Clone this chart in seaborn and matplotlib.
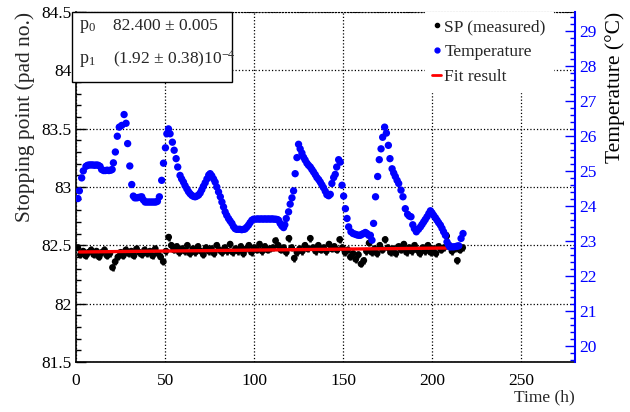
import matplotlib
matplotlib.use("Agg")
import matplotlib.pyplot as plt
import matplotlib.ticker as mticker
import numpy as np
import seaborn as sns
from matplotlib.lines import Line2D
from matplotlib.patches import Rectangle

# stopping point, one point every 1.5 h from t = 1 h
sp_time = np.arange(1, 217.1, 1.5)
sp_value = [
    82.48, 82.42, 82.45, 82.41, 82.44, 82.46, 82.42, 82.45, 82.40, 82.44,
    82.46, 82.41, 82.43, 82.31, 82.36, 82.40, 82.44, 82.41, 82.46, 82.43,
    82.45, 82.41, 82.47, 82.44, 82.42, 82.46, 82.43, 82.45, 82.41, 82.47,
    82.43, 82.40, 82.36, 82.45, 82.57, 82.50, 82.46, 82.49, 82.44, 82.47,
    82.45, 82.50, 82.43, 82.47, 82.44, 82.49, 82.45, 82.42, 82.48, 82.45,
    82.47, 82.43, 82.50, 82.46, 82.44, 82.48, 82.45, 82.51, 82.44, 82.47,
    82.45, 82.49, 82.43, 82.47, 82.50, 82.44, 82.48, 82.46, 82.51, 82.45,
    82.49, 82.46, 82.47, 82.48, 82.54, 82.50, 82.46, 82.48, 82.44, 82.56,
    82.48, 82.39, 82.44, 82.47, 82.45, 82.50, 82.47, 82.56, 82.48, 82.45,
    82.50, 82.46, 82.48, 82.45, 82.51, 82.47, 82.49, 82.46, 82.55, 82.48,
    82.44, 82.46, 82.40, 82.43, 82.38, 82.42, 82.34, 82.37, 82.45, 82.52,
    82.44, 82.47, 82.43, 82.50, 82.46, 82.55, 82.48, 82.44, 82.47, 82.43,
    82.49, 82.46, 82.51, 82.44, 82.48, 82.45, 82.50, 82.46, 82.43, 82.48,
    82.45, 82.50, 82.44, 82.47, 82.43, 82.49, 82.46, 82.48, 82.58, 82.50,
    82.45, 82.47, 82.37, 82.46, 82.48,
]
sp_err = 0.03

temp_time = [
    1.1, 1.9, 3.2, 4.1, 5.6, 6.5, 7.5, 8.5, 9.5, 10.5,
    11.5, 12.5, 13.5, 14.4, 15.5, 16.5, 17.5, 18.5, 19.5, 20.3,
    21.0, 22.1, 23.2, 24.3, 25.7, 27.0, 28.1, 29.0, 30.2, 31.3,
    32.2, 33.0, 34.1, 35.0, 36.0, 36.9, 37.8, 38.8, 39.8, 40.8,
    41.8, 42.8, 43.8, 44.8, 45.7, 46.8, 48.1, 49.1, 50.2, 51.0,
    51.9, 52.8, 54.1, 55.1, 56.2, 57.1, 58.4, 59.3, 60.3, 61.2,
    62.2, 63.1, 64.0, 65.0, 66.0, 66.9, 67.8, 68.8, 69.7, 70.6,
    71.5, 72.5, 73.5, 74.5, 75.3, 76.2, 77.2, 78.1, 79.0, 80.0,
    81.0, 81.9, 82.8, 83.7, 84.6, 85.6, 86.5, 87.5, 88.4, 89.3,
    90.2, 91.2, 92.1, 93.0, 94.0, 94.9, 95.8, 96.8, 97.7, 98.7,
    99.7, 101.0, 102.0, 103.0, 104.0, 105.0, 106.0, 107.0, 108.0, 109.0,
    110.0, 111.0, 112.0, 113.0, 113.7, 114.6, 115.5, 116.5, 117.2, 118.0,
    119.3, 120.2, 121.2, 122.1, 123.0, 124.0, 124.9, 125.8, 126.8, 127.7,
    128.6, 129.6, 130.5, 131.5, 132.4, 133.3, 134.3, 135.2, 136.2, 137.1,
    138.0, 138.9, 139.9, 140.8, 141.8, 142.7, 143.6, 144.6, 145.5, 146.3,
    147.4, 148.3, 149.3, 150.2, 151.2, 152.1, 153.0, 154.3, 155.5, 156.7,
    157.7, 158.7, 159.6, 160.5, 161.4, 162.4, 163.3, 164.2, 165.2, 166.1,
    167.0, 168.1, 169.3, 170.2, 171.2, 172.1, 173.2, 174.2, 175.3, 176.2,
    177.4, 178.3, 179.2, 180.2, 181.1, 182.4, 183.5, 184.8, 186.1, 187.0,
    188.0, 189.0, 189.9, 191.0, 192.2, 193.3, 194.2, 195.1, 196.0, 197.0,
    198.0, 198.9, 199.8, 200.7, 201.7, 202.6, 203.5, 204.5, 205.4, 206.3,
    207.3, 208.2, 209.0, 209.7, 210.8, 212.0, 213.2, 214.0, 214.8, 216.1,
    217.2,
]
temp_value = [
    24.20, 24.42, 24.79, 24.99, 25.12, 25.15, 25.16, 25.16, 25.16, 25.15,
    25.16, 25.15, 25.12, 25.03, 25.00, 25.00, 25.01, 25.00, 25.01, 25.03,
    25.22, 25.53, 25.98, 26.24, 26.29, 26.60, 26.35, 25.77, 25.13, 24.60,
    24.27, 24.22, 24.22, 24.23, 24.24, 24.25, 24.16, 24.10, 24.10, 24.10,
    24.10, 24.10, 24.10, 24.10, 24.12, 24.25, 24.72, 25.21, 25.65, 26.05,
    26.19, 26.05, 25.81, 25.58, 25.34, 25.10, 24.86, 24.76, 24.67, 24.57,
    24.48, 24.40, 24.34, 24.29, 24.26, 24.25, 24.27, 24.30, 24.36, 24.45,
    24.55, 24.65, 24.76, 24.87, 24.91, 24.85, 24.76, 24.67, 24.53, 24.39,
    24.25, 24.10, 23.96, 23.82, 23.72, 23.63, 23.56, 23.49, 23.40, 23.34,
    23.32, 23.32, 23.32, 23.31, 23.32, 23.33, 23.38, 23.44, 23.51, 23.58,
    23.61, 23.61, 23.62, 23.61, 23.62, 23.61, 23.62, 23.61, 23.62, 23.61,
    23.62, 23.61, 23.61, 23.60, 23.58, 23.49, 23.42, 23.37, 23.45, 23.63,
    23.82, 24.04, 24.22, 24.42, 24.91, 25.37, 25.75, 25.62, 25.50, 25.38,
    25.30, 25.21, 25.15, 25.10, 25.03, 24.96, 24.88, 24.80, 24.74, 24.67,
    24.59, 24.51, 24.41, 24.31, 24.28, 24.32, 24.63, 24.80, 24.89, 25.10,
    25.31, 25.24, 24.58, 24.27, 23.91, 23.63, 23.39, 23.25, 23.20, 23.18,
    23.16, 23.15, 23.15, 23.18, 23.20, 23.23, 23.20, 23.15, 23.15, 23.01,
    23.49, 24.25, 24.83, 25.31, 25.62, 25.95, 26.24, 26.07, 25.72, 25.34,
    25.05, 24.93, 24.83, 24.72, 24.63, 24.44, 24.25, 23.91, 23.75, 23.70,
    23.68, 23.45, 23.34, 23.25, 23.32, 23.39, 23.46, 23.53, 23.60, 23.68,
    23.77, 23.85, 23.79, 23.72, 23.65, 23.58, 23.51, 23.44, 23.35, 23.25,
    23.15, 22.96, 22.88, 22.82, 22.82, 22.82, 22.83, 22.84, 22.85, 23.06,
    23.20,
]

# linear fit drawn over the data range
fit_time = [2, 210]
fit_value = [82.443, 82.477]

sns.set_style("white")
plt.rcParams["font.family"] = ["Liberation Serif", "DejaVu Serif"]
plt.rcParams["mathtext.fontset"] = "custom"
plt.rcParams["mathtext.rm"] = "Liberation Serif"
plt.rcParams["mathtext.it"] = "Liberation Serif:italic"

fig = plt.figure(figsize=(6.3, 4.12), dpi=100)
ax = fig.add_axes([0.1206, 0.1214, 0.792, 0.8495])

ax.errorbar(sp_time, sp_value, yerr=sp_err, fmt="none", ecolor="black",
            elinewidth=1.8, zorder=3)
sns.scatterplot(x=sp_time, y=sp_value, color="black", s=24, edgecolor="none",
                ax=ax, zorder=4)
sns.lineplot(x=fit_time, y=fit_value, color="red", linewidth=2.4, ax=ax,
             zorder=5)

ax.set_xlim(0, 280)
ax.set_ylim(81.5, 84.5)
ax.xaxis.set_major_locator(mticker.MultipleLocator(50))
ax.xaxis.set_minor_locator(mticker.MultipleLocator(10))
ax.yaxis.set_major_locator(mticker.MultipleLocator(0.5))
ax.yaxis.set_minor_locator(mticker.MultipleLocator(0.1))
ax.yaxis.set_major_formatter(mticker.FuncFormatter(lambda v, p: f"{v:g}"))
ax.tick_params(which="both", direction="in", top=False, right=False,
               colors="black", labelsize=12.5)
ax.tick_params(which="major", length=7, width=1)
ax.tick_params(which="minor", length=3.5, width=1)
ax.tick_params(axis="y", pad=3)
ax.tick_params(axis="x", pad=8)
ax.grid(True, which="major", linestyle=":", color="black", linewidth=0.9)
for side in ["left", "bottom"]:
    ax.spines[side].set_color("black")
    ax.spines[side].set_linewidth(1.2)
ax.spines["right"].set_visible(False)
ax.spines["top"].set_color("black")
ax.spines["top"].set_linestyle(":")
ax.set_ylabel("Stopping point (pad no.)", loc="top", fontsize=15.5,
              labelpad=5)
ax.set_xlabel("Time (h)", loc="right", fontsize=12.5, labelpad=0)

ax2 = ax.twinx()
sns.scatterplot(x=temp_time, y=temp_value, color="blue", s=28,
                edgecolor="none", ax=ax2, zorder=4)
ax2.set_ylim(19.53, 29.53)
ax2.yaxis.set_major_locator(mticker.MultipleLocator(1))
ax2.yaxis.set_minor_locator(mticker.MultipleLocator(0.2))
ax2.tick_params(which="both", direction="in", colors="blue", labelsize=12.5,
                pad=3)
ax2.tick_params(which="major", length=7, width=1)
ax2.tick_params(which="minor", length=3.5, width=1)
for side in ["left", "top", "bottom"]:
    ax2.spines[side].set_visible(False)
ax2.spines["right"].set_color("blue")
ax2.spines["right"].set_linewidth(1.5)
ax2.set_ylabel("Temperature (°C)", loc="top", fontsize=15.5, color="black",
               labelpad=6)

# fit parameter box
box = Rectangle((-0.007, 0.80), 0.319, 0.2, transform=ax2.transAxes,
                facecolor="white", edgecolor="black", linewidth=1,
                zorder=6, clip_on=False)
ax2.add_patch(box)
ax2.text(0.006, 0.958, r"p$_{0}$", transform=ax2.transAxes, fontsize=13,
         va="center", zorder=7)
ax2.text(0.074, 0.96, "82.400 ± 0.005", transform=ax2.transAxes,
         fontsize=12.5, va="center", zorder=7)
ax2.text(0.006, 0.861, r"p$_{1}$", transform=ax2.transAxes, fontsize=13,
         va="center", zorder=7)
ax2.text(0.074, 0.863, r"(1.92 ± 0.38)10$^{-4}$", transform=ax2.transAxes,
         fontsize=12.5, va="center", zorder=7)

handles = [
    Line2D([], [], marker="o", color="black", linestyle="none", markersize=3),
    Line2D([], [], marker="o", color="blue", linestyle="none", markersize=3.5),
    Line2D([], [], color="red", linewidth=2),
]
leg = ax2.legend(handles, ["SP (measured)", "Temperature", "Fit result"],
                 loc="upper left", bbox_to_anchor=(0.7, 1.0), fontsize=12.5,
                 frameon=True, facecolor="white", edgecolor="white",
                 framealpha=1, fancybox=False, handlelength=0.5,
                 handletextpad=0.2, borderaxespad=0, borderpad=0.4,
                 labelspacing=0.5)
leg.set_zorder(8)

fig.savefig("out.png", dpi=100)
